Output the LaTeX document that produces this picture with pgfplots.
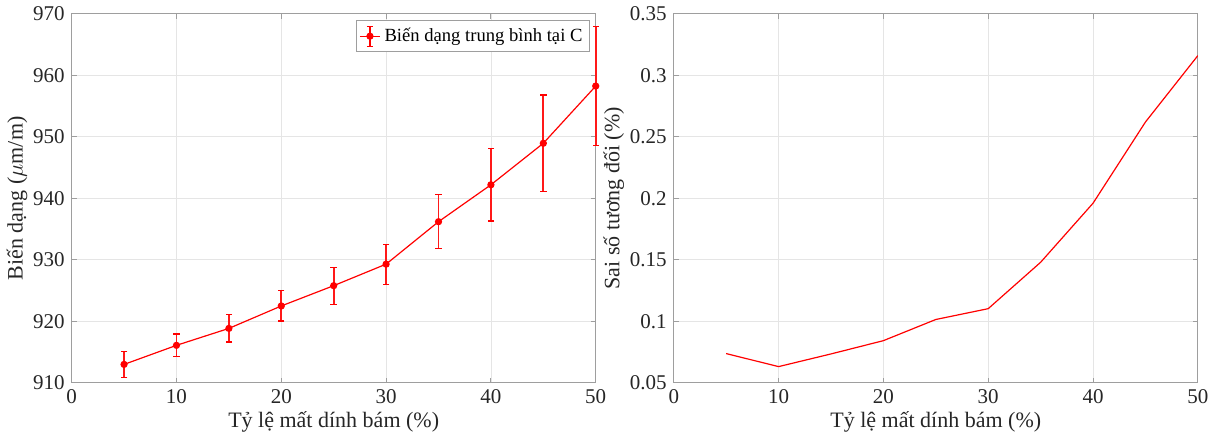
\documentclass[border=0pt]{standalone}
\usepackage{fontspec}
\setmainfont{Liberation Serif}
\usepackage{pgfplots}
\pgfplotsset{compat=1.18}

\definecolor{axgray}{gray}{0.62}
\definecolor{gridgray}{gray}{0.90}

\pgfplotsset{
  matlabstyle/.style={
    scale only axis,
    width=262pt, height=184.5pt,
    axis line style={axgray, line width=0.5pt},
    tick style={axgray, line width=0.5pt},
    major tick length=2.6pt,
    tick align=inside,
    xtick pos=both, ytick pos=both,
    grid=major,
    major grid style={gridgray, line width=0.4pt},
    xmin=0, xmax=50,
    xtick={0,10,...,50},
    ticklabel style={font=\fontsize{10.5}{12}\selectfont, text=black!85},
    label style={font=\fontsize{11}{13}\selectfont, text=black!85},
    /pgf/number format/assume math mode=true,
    xlabel={Tỷ lệ mất dính bám (\%)},
    xlabel style={yshift=3pt},
  },
}

\begin{document}
\begin{tikzpicture}
\begin{axis}[
  matlabstyle,
  at={(0,0)},
  clip=false,
  unbounded coords=jump,
  ymin=910, ymax=970,
  ytick={910,920,...,970},
  ylabel={Biến dạng ($\mu$m/m)},
  ylabel style={yshift=-4pt},
  legend style={
    at={(0.989,0.982)}, anchor=north east,
    draw=axgray, line width=0.5pt,
    font=\fontsize{9.3}{11}\selectfont,
    inner xsep=1.5pt, inner ysep=1.5pt,
    /tikz/every even column/.append style={column sep=0pt},
  },
  legend cell align=left,
  legend image code/.code={
    \draw[red, line width=0.6pt] (0pt,0pt) -- (10pt,0pt);
    \draw[red, line width=0.8pt] (5pt,-5pt) -- (5pt,5pt);
    \draw[red, line width=0.6pt] (3.4pt,-5pt) -- (6.6pt,-5pt);
    \draw[red, line width=0.6pt] (3.4pt,5pt) -- (6.6pt,5pt);
    \fill[red] (5pt,0pt) circle (1.5pt);
  },
]
% error bars: lower and upper ends at each x
\addplot[
  forget plot, color=red!90, line width=0.9pt,
  mark=-, mark size=1.6pt, mark options={color=red, line width=0.6pt},
] coordinates {
  (5,910.9)   (5,915.1)   (5,nan)
  (10,914.25) (10,917.95) (10,nan)
  (15,916.65) (15,921.05) (15,nan)
  (20,920.05) (20,924.95) (20,nan)
  (25,922.8)  (25,928.8)  (25,nan)
  (30,926.05) (30,932.55) (30,nan)
  (35,931.8)  (35,940.6)  (35,nan)
  (40,936.3)  (40,948.1)  (40,nan)
  (45,941.1)  (45,956.8)  (45,nan)
  (50,948.55) (50,967.95)
};
\addplot[
  red, line width=0.6pt,
  mark=*, mark size=1.5pt, mark options={fill=red, draw=red},
] coordinates {
  (5,913.0) (10,916.1) (15,918.85) (20,922.5) (25,925.8)
  (30,929.3) (35,936.2) (40,942.2) (45,948.95) (50,958.25)
};
\addlegendentry{Biến dạng trung bình tại C}
\end{axis}

\begin{axis}[
  matlabstyle,
  at={(301pt,0)},
  ymin=0.05, ymax=0.35,
  ytick={0.05,0.1,...,0.36},
  scaled y ticks=false,
  yticklabel style={/pgf/number format/.cd, fixed, precision=2},
  ylabel={Sai số tương đối (\%)},
  ylabel style={yshift=-4pt},
]
\addplot[red, line width=0.6pt, mark=none] coordinates {
  (5,0.0738) (10,0.0632) (15,0.0735) (20,0.0843) (25,0.1015)
  (30,0.1103) (35,0.148) (40,0.196) (45,0.262) (50,0.316)
};
\end{axis}
\end{tikzpicture}
\end{document}
